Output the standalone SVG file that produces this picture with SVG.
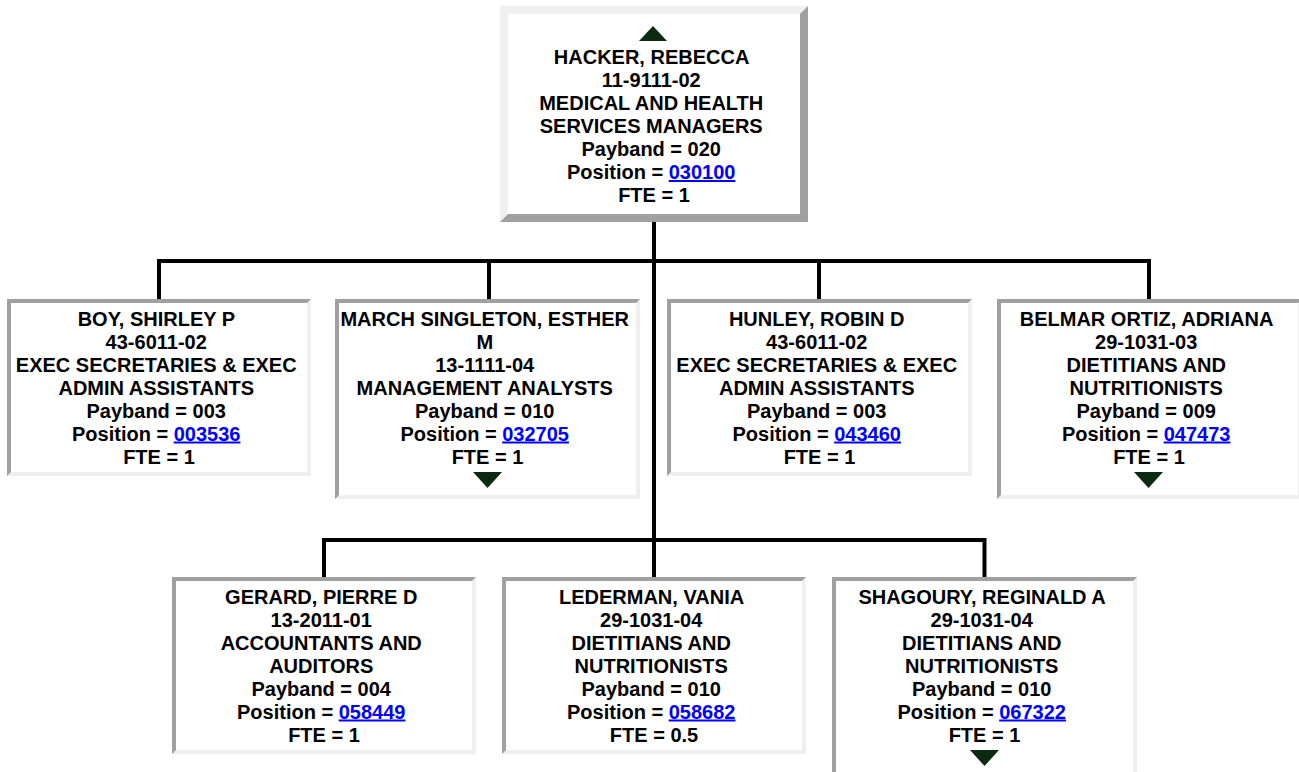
<svg xmlns="http://www.w3.org/2000/svg" width="1299" height="772" viewBox="0 0 1299 772">
<style>
  .t { font-family: "Liberation Sans", Arial, sans-serif; font-weight: bold; font-size: 20px; fill: #000; text-anchor: middle; }
  .lnk { fill: #0000ff; text-decoration: underline; }
  .lt { fill: #efefef; }
  .dk { fill: #a0a0a0; }
  .in { fill: #ffffff; }
  .tri { fill: #0b2a10; }
  .con { fill: none; stroke: #000; stroke-width: 4; stroke-linecap: square; stroke-linejoin: miter; }
</style>
<rect x="0" y="0" width="1299" height="772" fill="#ffffff"/>

<g id="connectors">
  <path class="con" d="M654,222 V577"/>
  <path class="con" d="M159,299 V261 H1149 V299"/>
  <path class="con" d="M489,261 V299"/>
  <path class="con" d="M819,261 V299"/>
  <path class="con" d="M324,577 V540 H984.5 V577"/>
</g>

<g id="node-hacker">
  <rect class="dk" x="500" y="6" width="308" height="216"/>
  <polygon class="lt" points="500,6 808,6 800,14 508,14 508,214 500,222"/>
  <rect class="in" x="508" y="14" width="292" height="200"/>
  <polygon class="tri" points="639,41 667,41 653,26"/>
  <text class="t">
    <tspan x="654" y="64">HACKER, REBECCA</tspan>
    <tspan x="654" y="87">11-9111-02</tspan>
    <tspan x="654" y="110">MEDICAL AND HEALTH</tspan>
    <tspan x="654" y="133">SERVICES MANAGERS</tspan>
    <tspan x="654" y="156">Payband = 020</tspan>
    <tspan x="654" y="179">Position = <tspan class="lnk">030100</tspan></tspan>
    <tspan x="654" y="202">FTE = 1</tspan>
  </text>
</g>

<g id="node-boy">
  <rect class="lt" x="7" y="299" width="304" height="177"/>
  <polygon class="dk" points="7,299 311,299 307,303 11,303 11,472 7,476"/>
  <rect class="in" x="11" y="303" width="296" height="169"/>
  <text class="t">
    <tspan x="159" y="325.5">BOY, SHIRLEY P</tspan>
    <tspan x="159" y="348.5">43-6011-02</tspan>
    <tspan x="159" y="371.5">EXEC SECRETARIES &amp; EXEC</tspan>
    <tspan x="159" y="394.5">ADMIN ASSISTANTS</tspan>
    <tspan x="159" y="417.5">Payband = 003</tspan>
    <tspan x="159" y="440.5">Position = <tspan class="lnk">003536</tspan></tspan>
    <tspan x="159" y="463.5">FTE = 1</tspan>
  </text>
</g>

<g id="node-march">
  <rect class="lt" x="335" y="299" width="305" height="200"/>
  <polygon class="dk" points="335,299 640,299 636,303 339,303 339,495 335,499"/>
  <rect class="in" x="339" y="303" width="297" height="192"/>
  <text class="t">
    <tspan x="487.5" y="325.5">MARCH SINGLETON, ESTHER</tspan>
    <tspan x="487.5" y="348.5">M</tspan>
    <tspan x="487.5" y="371.5">13-1111-04</tspan>
    <tspan x="487.5" y="394.5">MANAGEMENT ANALYSTS</tspan>
    <tspan x="487.5" y="417.5">Payband = 010</tspan>
    <tspan x="487.5" y="440.5">Position = <tspan class="lnk">032705</tspan></tspan>
    <tspan x="487.5" y="463.5">FTE = 1</tspan>
  </text>
  <polygon class="tri" points="473,472 502,472 487.5,488"/>
</g>

<g id="node-hunley">
  <rect class="lt" x="667" y="299" width="305" height="177"/>
  <polygon class="dk" points="667,299 972,299 968,303 671,303 671,472 667,476"/>
  <rect class="in" x="671" y="303" width="297" height="169"/>
  <text class="t">
    <tspan x="819.5" y="325.5">HUNLEY, ROBIN D</tspan>
    <tspan x="819.5" y="348.5">43-6011-02</tspan>
    <tspan x="819.5" y="371.5">EXEC SECRETARIES &amp; EXEC</tspan>
    <tspan x="819.5" y="394.5">ADMIN ASSISTANTS</tspan>
    <tspan x="819.5" y="417.5">Payband = 003</tspan>
    <tspan x="819.5" y="440.5">Position = <tspan class="lnk">043460</tspan></tspan>
    <tspan x="819.5" y="463.5">FTE = 1</tspan>
  </text>
</g>

<g id="node-belmar">
  <rect class="lt" x="997" y="299" width="305" height="200"/>
  <polygon class="dk" points="997,299 1302,299 1298,303 1001,303 1001,495 997,499"/>
  <rect class="in" x="1001" y="303" width="297" height="192"/>
  <text class="t">
    <tspan x="1149" y="325.5">BELMAR ORTIZ, ADRIANA</tspan>
    <tspan x="1149" y="348.5">29-1031-03</tspan>
    <tspan x="1149" y="371.5">DIETITIANS AND</tspan>
    <tspan x="1149" y="394.5">NUTRITIONISTS</tspan>
    <tspan x="1149" y="417.5">Payband = 009</tspan>
    <tspan x="1149" y="440.5">Position = <tspan class="lnk">047473</tspan></tspan>
    <tspan x="1149" y="463.5">FTE = 1</tspan>
  </text>
  <polygon class="tri" points="1134,472 1163,472 1148.5,488"/>
</g>

<g id="node-gerard">
  <rect class="lt" x="172" y="577" width="304" height="177"/>
  <polygon class="dk" points="172,577 476,577 472,581 176,581 176,750 172,754"/>
  <rect class="in" x="176" y="581" width="296" height="169"/>
  <text class="t">
    <tspan x="324" y="603.5">GERARD, PIERRE D</tspan>
    <tspan x="324" y="626.5">13-2011-01</tspan>
    <tspan x="324" y="649.5">ACCOUNTANTS AND</tspan>
    <tspan x="324" y="672.5">AUDITORS</tspan>
    <tspan x="324" y="695.5">Payband = 004</tspan>
    <tspan x="324" y="718.5">Position = <tspan class="lnk">058449</tspan></tspan>
    <tspan x="324" y="741.5">FTE = 1</tspan>
  </text>
</g>

<g id="node-lederman">
  <rect class="lt" x="502" y="577" width="304" height="177"/>
  <polygon class="dk" points="502,577 806,577 802,581 506,581 506,750 502,754"/>
  <rect class="in" x="506" y="581" width="296" height="169"/>
  <text class="t">
    <tspan x="654" y="603.5">LEDERMAN, VANIA</tspan>
    <tspan x="654" y="626.5">29-1031-04</tspan>
    <tspan x="654" y="649.5">DIETITIANS AND</tspan>
    <tspan x="654" y="672.5">NUTRITIONISTS</tspan>
    <tspan x="654" y="695.5">Payband = 010</tspan>
    <tspan x="654" y="718.5">Position = <tspan class="lnk">058682</tspan></tspan>
    <tspan x="654" y="741.5">FTE = 0.5</tspan>
  </text>
</g>

<g id="node-shagoury">
  <rect class="lt" x="832" y="577" width="305" height="200"/>
  <polygon class="dk" points="832,577 1137,577 1133,581 836,581 836,773 832,777"/>
  <rect class="in" x="836" y="581" width="297" height="192"/>
  <text class="t">
    <tspan x="984.5" y="603.5">SHAGOURY, REGINALD A</tspan>
    <tspan x="984.5" y="626.5">29-1031-04</tspan>
    <tspan x="984.5" y="649.5">DIETITIANS AND</tspan>
    <tspan x="984.5" y="672.5">NUTRITIONISTS</tspan>
    <tspan x="984.5" y="695.5">Payband = 010</tspan>
    <tspan x="984.5" y="718.5">Position = <tspan class="lnk">067322</tspan></tspan>
    <tspan x="984.5" y="741.5">FTE = 1</tspan>
  </text>
  <polygon class="tri" points="970,750 999,750 984.5,766"/>
</g>
</svg>
